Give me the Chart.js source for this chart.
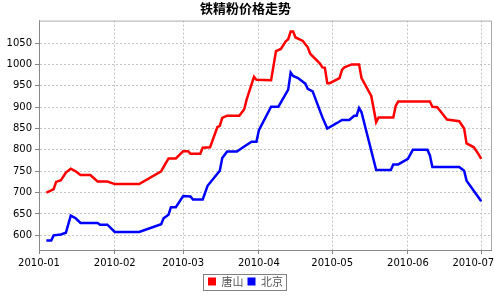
<!DOCTYPE html>
<html><head><meta charset="utf-8">
<script src="https://cdn.jsdelivr.net/npm/chart.js@4.4.1/dist/chart.umd.min.js"></script>
<style>html,body{margin:0;padding:0;background:#fff}#wrap{width:494px;height:297px}</style>
</head><body><div id="wrap"><canvas id="c" width="494" height="297"></canvas></div>
<script>
const chartTitle = '铁精粉价格走势';
const seriesNames = ['唐山', '北京'];
const monthTicks = ['2010-01', '2010-02', '2010-03', '2010-04', '2010-05', '2010-06', '2010-07'];
const yTicks = [600, 650, 700, 750, 800, 850, 900, 950, 1000, 1050];

const tangshanDates = ['2010-01-04','2010-01-06','2010-01-07','2010-01-08','2010-01-10','2010-01-12','2010-01-14','2010-01-16','2010-01-18','2010-01-22',
  '2010-01-25','2010-01-29','2010-02-01','2010-02-11','2010-02-20','2010-02-23','2010-02-26','2010-03-01','2010-03-03','2010-03-04',
  '2010-03-08','2010-03-09','2010-03-12','2010-03-15','2010-03-16','2010-03-17','2010-03-19','2010-03-24','2010-03-26','2010-03-27',
  '2010-03-30','2010-03-31','2010-04-06','2010-04-08','2010-04-10','2010-04-12','2010-04-13','2010-04-14','2010-04-15','2010-04-16',
  '2010-04-19','2010-04-21','2010-04-22','2010-04-26','2010-04-27','2010-04-28','2010-04-29','2010-04-30','2010-05-04','2010-05-05',
  '2010-05-06','2010-05-09','2010-05-12','2010-05-13','2010-05-17','2010-05-19','2010-05-20','2010-05-26','2010-05-27','2010-05-28',
  '2010-06-10','2010-06-11','2010-06-13','2010-06-17','2010-06-22','2010-06-24','2010-06-25','2010-06-28','2010-06-30','2010-07-01'];
const tangshanValues = [700,705,708,725,729,747,756,750,741,741,
  726,726,720,720,750,780,780,797,797,791,
  791,805,806,853,856,875,880,880,895,918,
  971,964,963,1031,1036,1054,1059,1077,1077,1063,
  1055,1040,1025,1002,993,992,956,956,968,987,
  993,1000,1000,968,926,865,876,876,903,913,
  913,901,900,871,867,850,815,806,789,779];

const beijingDates = ['2010-01-04','2010-01-06','2010-01-07','2010-01-10','2010-01-12','2010-01-14','2010-01-16','2010-01-18','2010-01-25','2010-01-26',
  '2010-01-29','2010-02-01','2010-02-11','2010-02-20','2010-02-21','2010-02-23','2010-02-24','2010-02-26','2010-03-01','2010-03-04',
  '2010-03-05','2010-03-09','2010-03-11','2010-03-16','2010-03-17','2010-03-19','2010-03-23','2010-03-26','2010-03-29','2010-03-31',
  '2010-04-01','2010-04-06','2010-04-09','2010-04-13','2010-04-14','2010-04-15','2010-04-17','2010-04-20','2010-04-21','2010-04-23',
  '2010-04-27','2010-04-29','2010-05-03','2010-05-05','2010-05-08','2010-05-10','2010-05-11','2010-05-12','2010-05-13','2010-05-19',
  '2010-05-25','2010-05-26','2010-05-28','2010-06-01','2010-06-03','2010-06-09','2010-06-10','2010-06-11','2010-06-22','2010-06-24',
  '2010-06-25','2010-07-01'];
const beijingValues = [588,588,600,602,606,646,640,629,629,625,
  625,608,608,626,640,648,666,666,692,691,
  684,684,716,751,781,796,796,808,819,819,
  846,901,901,941,981,973,968,955,943,937,
  876,850,863,870,870,880,880,898,888,753,
  753,766,766,779,800,800,787,760,760,751,
  728,680];

const DAY = 86400000, T0 = Date.UTC(2010, 0, 1);
function dayOf(s) { const p = s.split('-').map(Number); return (Date.UTC(p[0], p[1] - 1, p[2] || 1) - T0) / DAY; }
function pts(dates, vals) { return dates.map((d, i) => ({ x: dayOf(d), y: vals[i] })); }

const frame = {
  id: 'frame',
  afterDraw(chart) {
    const { ctx, chartArea: a } = chart;
    ctx.save();
    ctx.strokeStyle = '#aaaaaa'; ctx.lineWidth = 1;
    ctx.beginPath();
    ctx.moveTo(a.left, a.top + 0.5); ctx.lineTo(a.right + 0.5, a.top + 0.5); ctx.lineTo(a.right + 0.5, a.bottom);
    ctx.stroke();
    const hb = chart.legend.legendHitBoxes;
    if (hb && hb.length) {
      const l = Math.min(...hb.map(b => b.left)) - 5;
      const r = Math.max(...hb.map(b => b.left + b.width)) + 3;
      const t = Math.min(...hb.map(b => b.top)) - 2;
      const bt = Math.max(...hb.map(b => b.top + b.height)) + 3;
      ctx.strokeStyle = '#808080';
      ctx.strokeRect(Math.round(l) + 0.5, Math.round(t) + 0.5, Math.round(r - l), Math.round(bt - t));
    }
    ctx.restore();
  }
};

new Chart(document.getElementById('c'), {
  type: 'line',
  data: {
    datasets: [
      { label: seriesNames[0], data: pts(tangshanDates, tangshanValues), borderColor: '#ff0000', backgroundColor: '#ff0000', borderWidth: 2.5, pointRadius: 0, tension: 0, fill: false },
      { label: seriesNames[1], data: pts(beijingDates, beijingValues), borderColor: '#0000ff', backgroundColor: '#0000ff', borderWidth: 2.5, pointRadius: 0, tension: 0, fill: false }
    ]
  },
  options: {
    responsive: false, animation: false, devicePixelRatio: 1,
    layout: { padding: { left: 0, right: 3, top: 0, bottom: 0 } },
    plugins: {
      title: { display: true, text: chartTitle, color: '#000', font: { family: 'Noto Sans CJK SC', size: 13, weight: 'bold' }, padding: { top: 0, bottom: 5 } },
      legend: {
        position: 'bottom',
        labels: {
          boxWidth: 8, boxHeight: 8, padding: 4, color: '#555',
          font: { family: 'Noto Sans CJK SC', size: 11 },
          generateLabels: (chart) => Chart.defaults.plugins.legend.labels.generateLabels(chart).map(l => ({ ...l, lineWidth: 0 }))
        }
      },
      tooltip: { enabled: false }
    },
    scales: {
      x: {
        type: 'linear', min: 0, max: 185,
        afterBuildTicks: (s) => { s.ticks = monthTicks.map(m => ({ value: dayOf(m + '-01') })); },
        afterFit: (s) => { s.height = 22; s.paddingLeft = 0; s.paddingRight = 0; },
        ticks: {
          autoSkip: false, maxRotation: 0, padding: 3, color: '#000',
          font: { family: 'DejaVu Sans', size: 10 },
          callback: (v, i) => monthTicks[i] + (i === monthTicks.length - 1 ? '\u00a0\u00a0\u00a0\u00a0\u00a0' : '')
        },
        grid: { color: '#c4c4c4', tickColor: '#888', tickLength: 4 },
        border: { color: '#888', dash: [2, 2] }
      },
      y: {
        type: 'linear', min: 565.7, max: 1102.5,
        afterBuildTicks: (s) => { s.ticks = yTicks.map(v => ({ value: v })); },
        afterFit: (s) => { s.width = 39; s.paddingTop = 0; s.paddingBottom = 0; },
        ticks: { padding: 3, color: '#000', font: { family: 'DejaVu Sans', size: 10 }, callback: (v) => String(v) },
        grid: { color: '#c4c4c4', tickColor: '#888', tickLength: 4 },
        border: { color: '#888', dash: [2, 2] }
      }
    }
  },
  plugins: [frame]
});
</script>
</body></html>
